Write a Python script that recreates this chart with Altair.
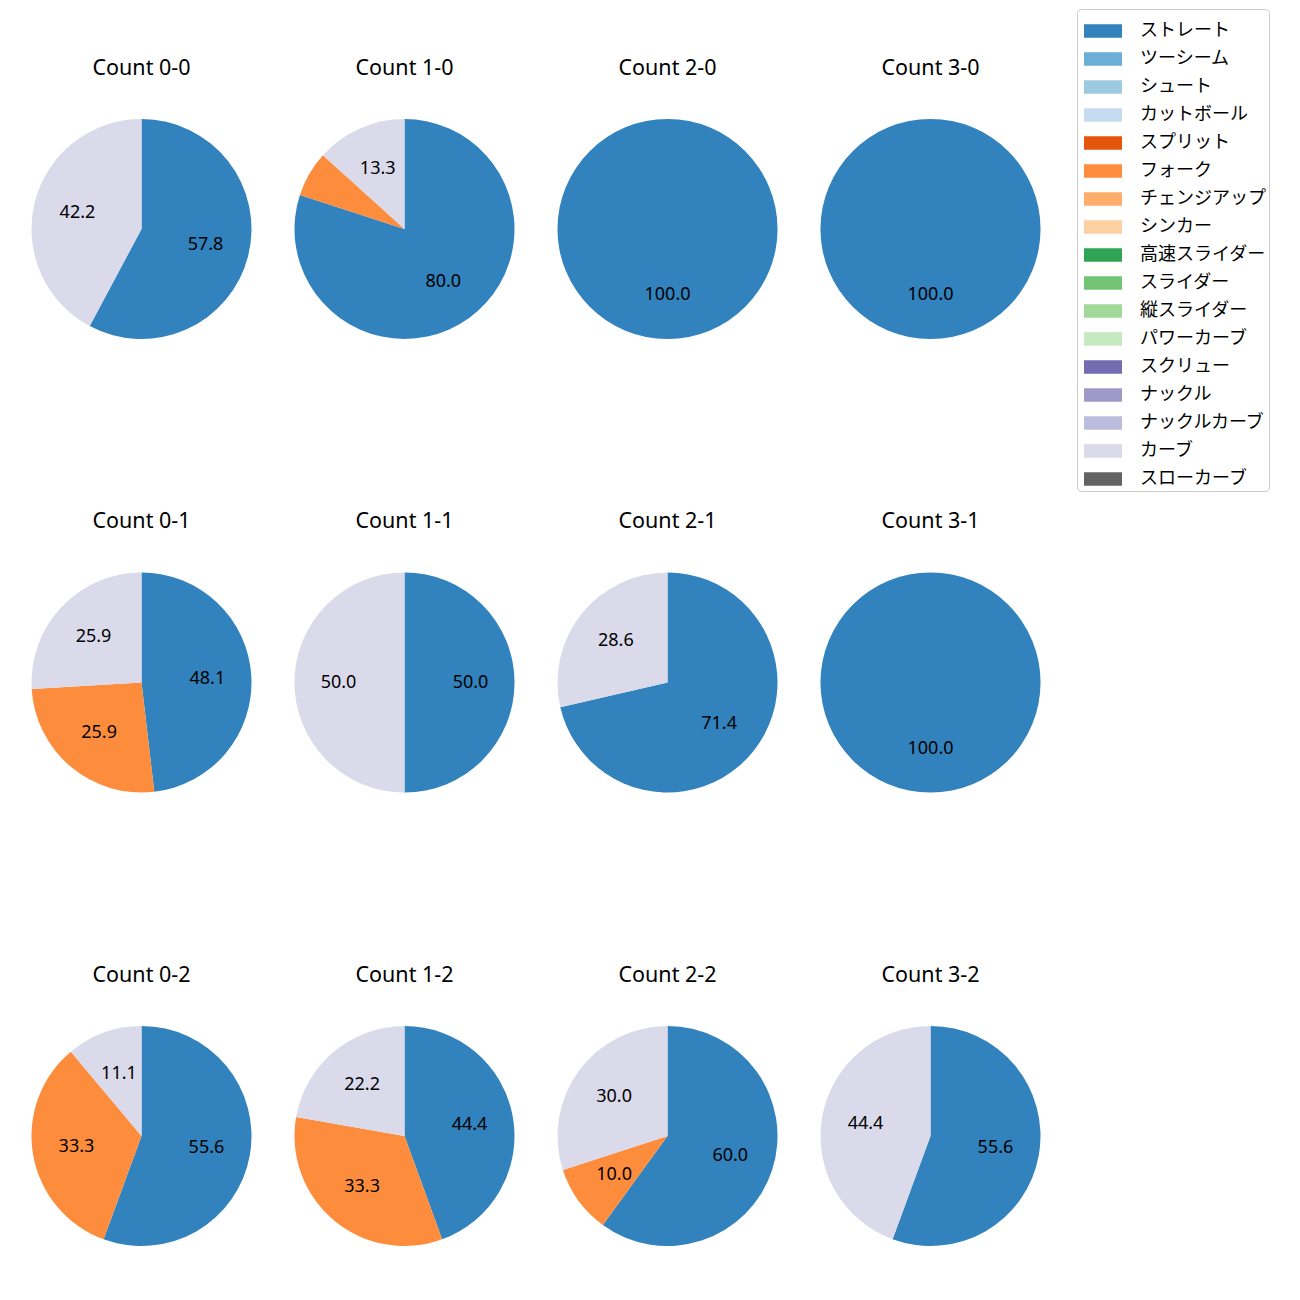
import altair as alt
import pandas as pd

pitch_types = ["ストレート", "ツーシーム", "シュート", "カットボール", "スプリット", "フォーク",
               "チェンジアップ", "シンカー", "高速スライダー", "スライダー", "縦スライダー",
               "パワーカーブ", "スクリュー", "ナックル", "ナックルカーブ", "カーブ", "スローカーブ"]
pitch_colors = ["#3182bd", "#6baed6", "#9ecae1", "#c6dbef", "#e6550d", "#fd8d3c",
                "#fdae6b", "#fdd0a2", "#31a354", "#74c476", "#a1d99b", "#c7e9c0",
                "#756bb1", "#9e9ac8", "#bcbddc", "#dadaeb", "#636363"]

counts = ["0-0", "1-0", "2-0", "3-0",
          "0-1", "1-1", "2-1", "3-1",
          "0-2", "1-2", "2-2", "3-2"]
straight = [57.8, 80.0, 100.0, 100.0, 48.1, 50.0, 71.4, 100.0, 55.6, 44.4, 60.0, 55.6]
fork =     [0.0, 6.7, 0.0, 0.0, 25.9, 0.0, 0.0, 0.0, 33.3, 33.3, 10.0, 0.0]
curve =    [42.2, 13.3, 0.0, 0.0, 25.9, 50.0, 28.6, 0.0, 11.1, 22.2, 30.0, 44.4]

FONT = "Noto Sans, Noto Sans CJK JP"
R = 110

rows = []
for i, c in enumerate(counts):
    for name, vals in (("ストレート", straight), ("フォーク", fork), ("カーブ", curve)):
        v = vals[i]
        if v > 0:
            rows.append({"count": c, "pitch": name, "value": v,
                         "idx": pitch_types.index(name),
                         "label": f"{v:.1f}" if v >= 10 else ""})
df = pd.DataFrame(rows)

color = alt.Color("pitch:N",
                  scale=alt.Scale(domain=pitch_types, range=pitch_colors),
                  legend=alt.Legend(title=None))


def panel(c):
    d = df[df["count"] == c]
    base = alt.Chart(d).encode(
        theta=alt.Theta("value:Q", stack=True),
        order=alt.Order("idx:Q"),
    )
    arc = base.mark_arc(radius=R).encode(color=color)
    txt = base.mark_text(radius=R * 0.6, fontSize=18, font=FONT, color="black").encode(
        text="label:N")
    return alt.layer(arc, txt).properties(
        width=263, height=220,
        title=alt.TitleParams(f"Count {c}", fontSize=21.5, font=FONT,
                              fontWeight="normal", offset=40, color="black"))


grid_rows = []
for r in range(3):
    grid_rows.append(alt.hconcat(*[panel(counts[r * 4 + k]) for k in range(4)], spacing=0))

chart = alt.vconcat(*grid_rows, spacing=171.5).properties(
    padding={"left": 2, "top": 0, "right": 5, "bottom": 5}
).configure_view(stroke=None).configure_legend(
    orient="none", legendX=1067, legendY=-110,
    strokeColor="#cccccc", cornerRadius=4, padding=3,
    fillColor="white",
    symbolType="M-0.79,-0.35H1.21V0.35H-0.79Z", symbolSize=1444,
    symbolStrokeWidth=0, symbolOpacity=1,
    labelFont=FONT, labelFontSize=18, labelOffset=22, labelColor="black",
    rowPadding=-1.3, labelLimit=300,
)

chart.save("out.html", embed_options={"renderer": "svg", "actions": False})
